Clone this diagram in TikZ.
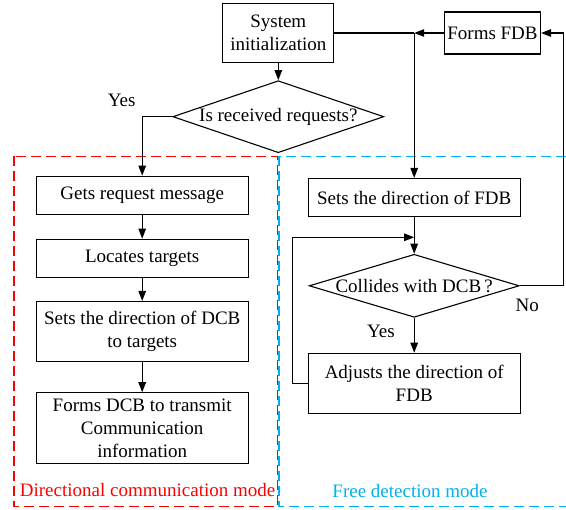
\documentclass[tikz,border=0pt]{standalone}
\usepackage{fontspec}
\setmainfont{Liberation Serif}
\usetikzlibrary{shapes.geometric,arrows.meta}
\definecolor{modeblue}{RGB}{0,176,240}
\begin{document}
\begin{tikzpicture}[x=1pt,y=-1pt,
  font=\fontsize{19}{23}\selectfont,
  line width=1.1pt,
  box/.style={draw,rectangle,align=center,inner sep=1pt,minimum width=212pt},
  dec/.style={draw,diamond,inner sep=0pt,aspect=1},
  arr/.style={-{Triangle[length=10pt,width=7.5pt]}},
  modebox/.style={dash pattern=on 10pt off 5pt,line width=1.3pt}]
\useasboundingbox (0,0) rectangle (566,510);
% mode frames
\draw[modebox,red] (14,156.5) rectangle (277.5,506.5);
\draw[modebox,modeblue] (279,156.5) rectangle (567.5,506.5);
\node[red,anchor=west] (lblA) at (16,490) {Directional communication mode};
\node[modeblue] (lblB) at (410,491) {Free detection mode};
% nodes
\node[box,minimum width=111pt,minimum height=59pt] (init) at (278.3,33) {System\\initialization};
\node[box,minimum width=96pt,minimum height=42pt] (fdb) at (492.5,33) {Forms FDB};
\node[dec,minimum width=211pt,minimum height=72pt] (q1) at (278.3,116.7) {\makebox[0pt]{Is received requests?}};
\node[box,minimum height=38pt] (get) at (142.2,195.2) {Gets request message};
\node[box,minimum height=38pt] (loc) at (142.2,258.2) {Locates targets};
\node[box,minimum height=60pt] (setdcb) at (142.2,331.5) {Sets the direction of DCB\\to targets};
\node[box,minimum height=71pt] (formdcb) at (142.2,428.3) {Forms DCB to transmit\\Communication\\information};
\node[box,minimum height=38pt] (setfdb) at (414.2,197.5) {Sets the direction of FDB};
\node[dec,minimum width=210pt,minimum height=63pt] (q2) at (414.2,285.8) {\makebox[0pt]{Collides with DCB\,?}};
\node[box,minimum height=60pt] (adj) at (414.2,383.3) {Adjusts the direction of\\FDB};
% labels
\node (yes1) at (121.7,100) {Yes};
\node (yes2) at (381,331.7) {Yes};
\node (no) at (527.3,305) {No};
% helper coordinates
\coordinate (j) at (414.2,33);
\coordinate (rt) at (563.5,33);
\coordinate (lp) at (292.7,237.3);
% connectors
\draw[arr] (init) -- (q1);
\draw[arr] (q1.west) -| (get.north);
\draw[arr] (get) -- (loc);
\draw[arr] (loc) -- (setdcb);
\draw[arr] (setdcb) -- (formdcb);
\draw (init.east) -- (j);
\draw[arr] (fdb.west) -- (j);
\draw[arr] (j) -- (setfdb.north);
\draw[arr] (setfdb) -- (q2);
\draw[arr] (q2) -- (adj);
\draw[arr] (q2.east) -| (rt) -- (fdb.east);
\draw[arr] (adj.west) -| (lp) -- (setfdb.south |- lp);
\end{tikzpicture}
\end{document}
